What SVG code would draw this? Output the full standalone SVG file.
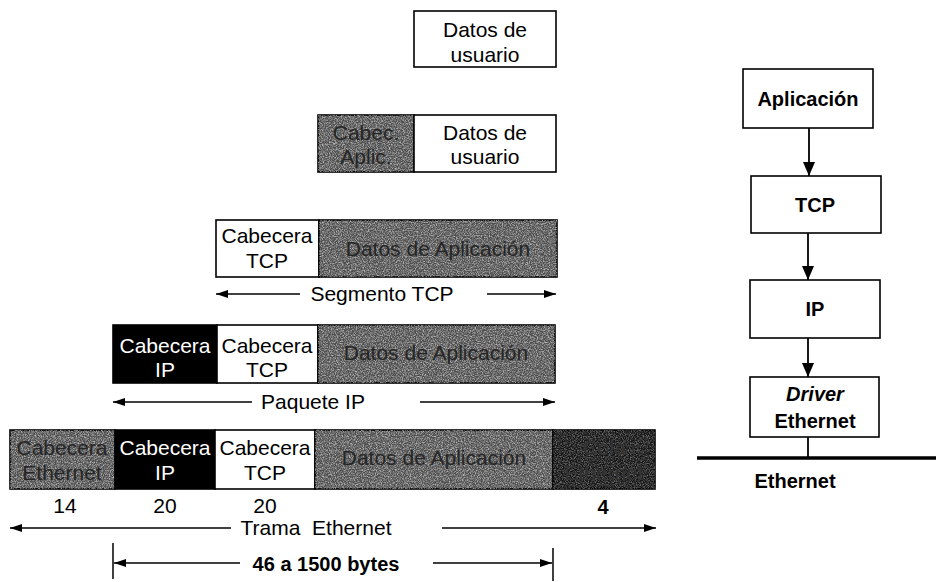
<svg xmlns="http://www.w3.org/2000/svg" width="936" height="582" viewBox="0 0 936 582">
<style>
  .box { stroke: #000; stroke-width: 1.6; }
  .white { fill: #fff; }
  .gray { fill: #4c4c4c; }
  .dark { fill: #141414; }
  .black { fill: #000; }
  .t { font-family: "Liberation Sans", Arial, sans-serif; font-size: 21px; text-anchor: middle; fill: #000; }
  .tw { font-family: "Liberation Sans", Arial, sans-serif; font-size: 21px; text-anchor: middle; fill: #fff; }
  .tg { font-family: "Liberation Sans", Arial, sans-serif; font-size: 21px; text-anchor: middle; fill: #262626; }
  .tgd { font-family: "Liberation Sans", Arial, sans-serif; font-size: 21px; text-anchor: middle; fill: #333; }
  .tb { font-family: "Liberation Sans", Arial, sans-serif; font-size: 20px; font-weight: bold; text-anchor: middle; fill: #000; }
  .rb { font-family: "Liberation Sans", Arial, sans-serif; font-size: 20px; font-weight: bold; text-anchor: middle; fill: #000; }
  .ln { stroke: #000; stroke-width: 1.8; fill: none; }
  .dim { stroke: #000; stroke-width: 1.5; fill: none; }
</style>
<defs>
  <filter id="grain" x="0" y="0" width="100%" height="100%">
    <feTurbulence type="fractalNoise" baseFrequency="0.85" numOctaves="3" seed="7" result="n"/>
    <feColorMatrix in="n" type="matrix" values="0 0 0 0 1  0 0 0 0 1  0 0 0 0 1  2.4 0 0 0 -0.9" result="w"/>
    <feComposite in="w" in2="SourceGraphic" operator="in"/>
  </filter>
  <marker id="ah" viewBox="0 0 12 8" refX="12" refY="4" markerWidth="12" markerHeight="8" markerUnits="userSpaceOnUse" orient="auto-start-reverse">
    <path d="M0,0 L12,4 L0,8 Z" fill="#000"/>
  </marker>
  <marker id="ahv" viewBox="0 0 14 12" refX="14" refY="6" markerWidth="14" markerHeight="12" markerUnits="userSpaceOnUse" orient="auto">
    <path d="M0,0 L14,6 L0,12 Z" fill="#000"/>
  </marker>
</defs>
<rect width="936" height="582" fill="#fff"/>

<!-- Row 1 -->
<g id="row1-datos-usuario">
  <rect class="box white" x="414" y="11" width="142" height="56"/>
  <text class="t" x="485" y="37">Datos de</text>
  <text class="t" x="485" y="62">usuario</text>
</g>

<!-- Row 2 -->
<g id="row2-cabecera-aplic">
  <rect class="box gray" x="318" y="115" width="96" height="57"/>
  <rect x="318" y="115" width="96" height="57" fill="#000" filter="url(#grain)" opacity="0.6"/>
  <text class="tg" x="366" y="140">Cabec.</text>
  <text class="tg" x="366" y="164">Aplic.</text>
</g>
<g id="row2-datos-usuario">
  <rect class="box white" x="414" y="115" width="142" height="57"/>
  <text class="t" x="485" y="140">Datos de</text>
  <text class="t" x="485" y="164">usuario</text>
</g>

<!-- Row 3 -->
<g id="row3-cabecera-tcp">
  <rect class="box white" x="216" y="220" width="103" height="57"/>
  <text class="t" x="267" y="243">Cabecera</text>
  <text class="t" x="267" y="268">TCP</text>
</g>
<g id="row3-datos-aplicacion">
  <rect class="box gray" x="319" y="220" width="238" height="57"/>
  <rect x="319" y="220" width="238" height="57" fill="#000" filter="url(#grain)" opacity="0.6"/>
  <text class="tg" x="438" y="256">Datos de Aplicación</text>
</g>

<!-- Row 4 -->
<g id="row4-cabecera-ip">
  <rect class="box black" x="113" y="325" width="104" height="58"/>
  <text class="tw" x="165" y="353">Cabecera</text>
  <text class="tw" x="165" y="377">IP</text>
</g>
<g id="row4-cabecera-tcp">
  <rect class="box white" x="217" y="325" width="101" height="58"/>
  <text class="t" x="267" y="353">Cabecera</text>
  <text class="t" x="267" y="377">TCP</text>
</g>
<g id="row4-datos-aplicacion">
  <rect class="box gray" x="318" y="325" width="237" height="58"/>
  <rect x="318" y="325" width="237" height="58" fill="#000" filter="url(#grain)" opacity="0.6"/>
  <text class="tg" x="436" y="360">Datos de Aplicación</text>
</g>

<!-- Row 5 -->
<g id="row5-cabecera-ethernet">
  <rect class="box gray" x="10" y="430" width="105" height="59"/>
  <rect x="10" y="430" width="105" height="59" fill="#000" filter="url(#grain)" opacity="0.6"/>
  <text class="tg" x="62" y="455">Cabecera</text>
  <text class="tg" x="62" y="480">Ethernet</text>
</g>
<g id="row5-cabecera-ip">
  <rect class="box black" x="115" y="430" width="100" height="59"/>
  <text class="tw" x="165" y="455">Cabecera</text>
  <text class="tw" x="165" y="480">IP</text>
</g>
<g id="row5-cabecera-tcp">
  <rect class="box white" x="215" y="430" width="100" height="59"/>
  <text class="t" x="265" y="455">Cabecera</text>
  <text class="t" x="265" y="480">TCP</text>
</g>
<g id="row5-datos-aplicacion">
  <rect class="box gray" x="315" y="430" width="238" height="59"/>
  <rect x="315" y="430" width="238" height="59" fill="#000" filter="url(#grain)" opacity="0.6"/>
  <text class="tg" x="434" y="465">Datos de Aplicación</text>
</g>
<g id="row5-cola-ethernet">
  <rect class="box dark" x="553" y="430" width="102" height="59"/>
  <rect x="553" y="430" width="102" height="59" fill="#000" filter="url(#grain)" opacity="0.4"/>
  <text class="tgd" x="604" y="455">Cola</text>
  <text class="tgd" x="604" y="480">Ethernet</text>
</g>

<!-- sizes -->
<g id="sizes">
  <text class="t" x="65" y="513">14</text>
  <text class="t" x="165" y="513">20</text>
  <text class="t" x="265" y="513">20</text>
  <text class="tb" x="603" y="514">4</text>
</g>

<!-- dimension arrows -->
<g id="dimensions">
  <line class="dim" x1="300" y1="294" x2="216" y2="294" marker-end="url(#ah)"/>
  <line class="dim" x1="487" y1="294" x2="556" y2="294" marker-end="url(#ah)"/>
  <text class="t" x="382" y="301">Segmento TCP</text>

  <line class="dim" x1="252" y1="402" x2="113" y2="402" marker-end="url(#ah)"/>
  <line class="dim" x1="420" y1="402" x2="555" y2="402" marker-end="url(#ah)"/>
  <text class="t" x="313" y="409">Paquete IP</text>

  <line class="dim" x1="231" y1="528" x2="10" y2="528" marker-end="url(#ah)"/>
  <line class="dim" x1="442" y1="528" x2="656" y2="528" marker-end="url(#ah)"/>
  <text class="t" x="316" y="535" xml:space="preserve">Trama  Ethernet</text>

  <line class="dim" x1="113" y1="543" x2="113" y2="579"/>
  <line class="dim" x1="553" y1="548" x2="553" y2="581"/>
  <line class="dim" x1="240" y1="563" x2="114" y2="563" marker-end="url(#ah)"/>
  <line class="dim" x1="433" y1="563" x2="552" y2="563" marker-end="url(#ah)"/>
  <text class="tb" x="326" y="571">46 a 1500 bytes</text>
</g>

<!-- Right stack -->
<g id="aplicacion">
  <rect class="box white" x="743" y="69" width="130" height="59"/>
  <text class="rb" x="808" y="106">Aplicación</text>
</g>
<g id="tcp">
  <rect class="box white" x="751" y="176" width="130" height="57"/>
  <text class="rb" x="815" y="212">TCP</text>
</g>
<g id="ip">
  <rect class="box white" x="750" y="280" width="130" height="58"/>
  <text class="rb" x="815" y="316">IP</text>
</g>
<g id="driver-ethernet">
  <rect class="box white" x="750" y="377" width="129" height="60"/>
  <text class="rb" x="815" y="401" font-style="italic">Driver</text>
  <text class="rb" x="815" y="428">Ethernet</text>
</g>
<g id="ethernet-bus">
  <line x1="697" y1="458" x2="936" y2="458" stroke="#000" stroke-width="3.5"/>
  <text class="rb" x="795" y="488">Ethernet</text>
</g>

<g id="connectors">
  <line class="ln" x1="809" y1="128" x2="809" y2="176" marker-end="url(#ahv)"/>
  <line class="ln" x1="808" y1="233" x2="808" y2="280" marker-end="url(#ahv)"/>
  <line class="ln" x1="808" y1="338" x2="808" y2="377" marker-end="url(#ahv)"/>
  <line class="ln" x1="808" y1="437" x2="808" y2="458"/>
</g>
</svg>
